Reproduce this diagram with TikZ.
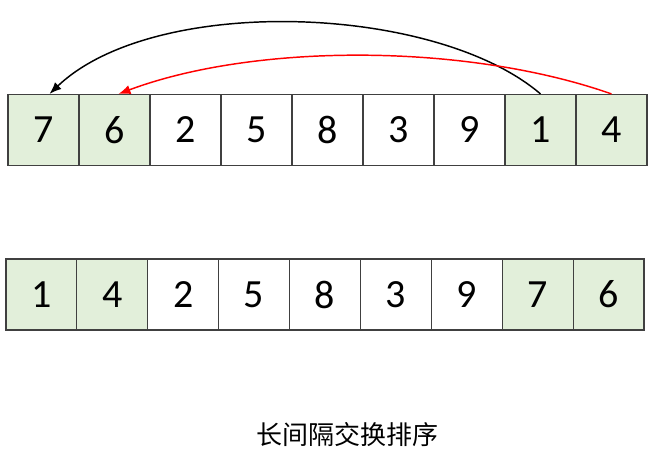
\documentclass[tikz,border=0pt]{standalone}
\usepackage{fontspec}
\setmainfont{Carlito}
\newfontfamily\cjk{Noto Sans CJK SC}
\usetikzlibrary{arrows.meta}

\definecolor{cellgreen}{HTML}{E2EFDA}
\definecolor{cellline}{HTML}{404040}

\begin{document}
\begin{tikzpicture}[x=0.75pt, y=-0.75pt, line width=0.9pt,
    cell/.style={draw=cellline, fill=white, minimum width=53.2pt, minimum height=53.2pt,
                 inner sep=0pt, font=\fontsize{30}{30}\selectfont},
    swapcell/.style={cell, fill=cellgreen},
    jump/.style={line width=1.1pt, -{Latex[length=9pt, width=7pt]}}]
            \useasboundingbox (0, 0) rectangle (654, 463);

            %%%%%%%%
            % before swap
            %%%%%%%%

            % draw cells
            \node[swapcell] (t1) at (43.5, 130) {7};
            \node[swapcell] (t2) at (114.5, 130) {6};
            \node[cell] (t3) at (185.5, 130) {2};
            \node[cell] (t4) at (256.5, 130) {5};
            \node[cell] (t5) at (327.5, 130) {8};
            \node[cell] (t6) at (398.5, 130) {3};
            \node[cell] (t7) at (469.5, 130) {9};
            \node[swapcell] (t8) at (540.5, 130) {1};
            \node[swapcell] (t9) at (611.5, 130) {4};

            % draw swap arrows
            \draw[jump, black] (t8.north) .. controls +(-105, -90) and +(105, -100) .. ([xshift=4.5pt]t1.north);
            \draw[jump, red] (t9.north) .. controls +(-145, -51) and +(136, -51) .. ([xshift=3pt]t2.north);

            %%%%%%%%
            % after swap
            %%%%%%%%

            % draw cells
            \node[swapcell] (b1) at (41.4, 294.5) {1};
            \node[swapcell] (b2) at (112.3, 294.5) {4};
            \node[cell] (b3) at (183.2, 294.5) {2};
            \node[cell] (b4) at (254.1, 294.5) {5};
            \node[cell] (b5) at (325, 294.5) {8};
            \node[cell] (b6) at (395.9, 294.5) {3};
            \node[cell] (b7) at (466.8, 294.5) {9};
            \node[swapcell] (b8) at (537.7, 294.5) {7};
            \node[swapcell] (b9) at (608.6, 294.5) {6};

            % caption
            \node[font=\cjk\fontsize{19.5}{19.5}\selectfont] (caption) at (347.5, 435) {长间隔交换排序};
        \end{tikzpicture}
\end{document}
